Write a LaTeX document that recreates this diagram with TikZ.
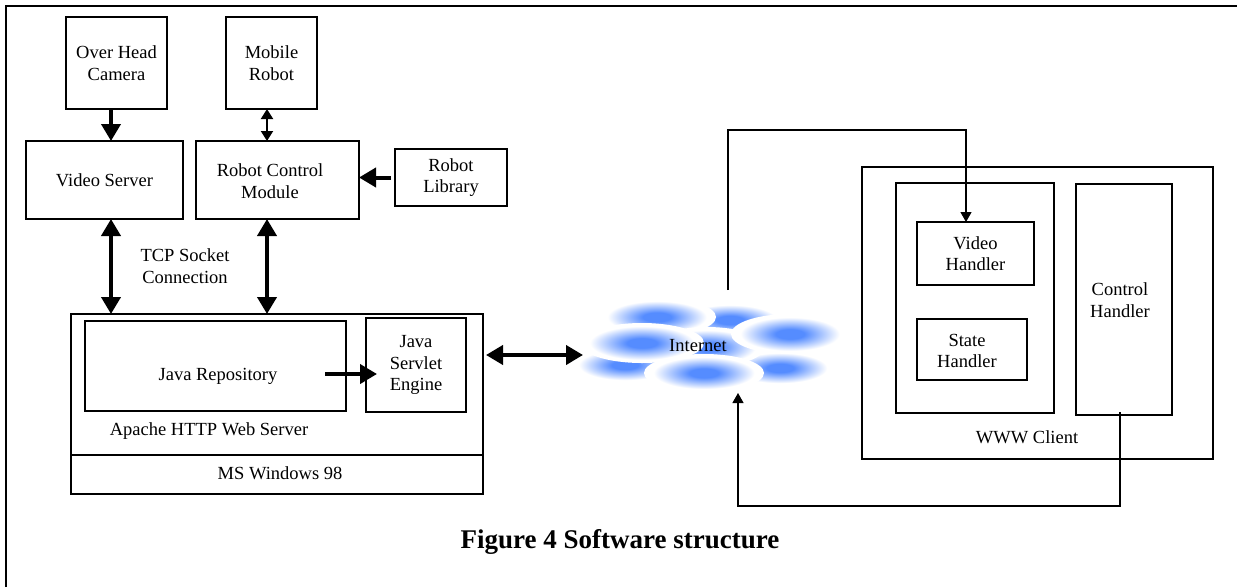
\documentclass[tikz,border=0pt]{standalone}
\usepackage{fontspec}
\setmainfont{Liberation Serif}
\usetikzlibrary{arrows.meta}
\definecolor{blobblue}{RGB}{85,140,255}
\pgfdeclareradialshading{blob}{\pgfpoint{0bp}{0bp}}{color(0bp)=(blobblue); color(6bp)=(blobblue); color(21bp)=(white); color(50bp)=(white)}
\begin{document}
\begin{tikzpicture}[x=1pt,y=-1pt,
 box/.style={draw,line width=1.5pt,inner sep=0pt,outer sep=0pt,align=center,font=\fontsize{18.5}{21.5}\selectfont},
 lbl/.style={align=center,inner sep=0pt,font=\fontsize{18.5}{21.5}\selectfont},
 bigarr/.style={line width=4pt,-{Triangle[length=17pt,width=19pt]}},
 bigboth/.style={line width=4pt,{Triangle[length=17pt,width=19pt]}-{Triangle[length=17pt,width=19pt]}},
 smallboth/.style={line width=2pt,{Triangle[length=10pt,width=12pt]}-{Triangle[length=10pt,width=12pt]}},
 thinarr/.style={line width=1.2pt,-{Triangle[length=10pt,width=11pt]}},
 blobsh/.style={shading=blob}]
\useasboundingbox (0,0) rectangle (1237,587);
% outer frame
\draw[line width=2pt] (6,587) -- (6,6) -- (1237,6);

% left column boxes
\node[box,minimum width=101pt,minimum height=92pt] (ohc) at (116.5,63) {Over Head\\Camera};
\node[box,minimum width=91pt,minimum height=92pt] (mob) at (271.5,63) {Mobile\\Robot};
\node[box,minimum width=157pt,minimum height=78pt] (vs) at (104.5,180) {Video Server};
\node[box,minimum width=163pt,minimum height=78pt] (rcm) at (277.5,180) {};
\node[lbl] (rcmt) at (270,181) {Robot Control\\Module};
\node[box,minimum width=112pt,minimum height=57pt] (rl) at (451,177.5) {Robot\\Library};
\node[lbl] (tcp) at (185,266) {TCP Socket\\Connection};

% Apache box
\node[box,minimum width=412pt,minimum height=180pt] (apache) at (277,404) {};
\draw[line width=1.5pt] (apache.west |- 0,455) -- (apache.east |- 0,455);
\node[box,minimum width=261pt,minimum height=90pt] (jr) at (215.5,366) {};
\node[lbl] (jrt) at (218,376) {Java Repository};
\node[box,minimum width=100pt,minimum height=94pt] (jse) at (416,365) {Java\\Servlet\\Engine};
\node[lbl] (apt) at (209,431) {Apache HTTP Web Server};
\node[lbl] (ms) at (280,473) {MS Windows 98};

% Internet cloud
\shade[blobsh] (730,320) ellipse [x radius=56pt, y radius=18pt];
\shade[blobsh] (625,365) ellipse [x radius=55pt, y radius=18pt];
\shade[blobsh] (780,368) ellipse [x radius=56pt, y radius=18pt];
\shade[blobsh] (657,317) ellipse [x radius=59pt, y radius=19pt];
\shade[blobsh] (707,347) ellipse [x radius=58pt, y radius=20pt];
\shade[blobsh] (790,334) ellipse [x radius=59pt, y radius=20pt];
\shade[blobsh] (642,343) ellipse [x radius=62pt, y radius=20pt];
\shade[blobsh] (704,373) ellipse [x radius=60pt, y radius=19pt];
\node[lbl] (inet) at (698,346) {Internet};
\coordinate (inetW) at (583,355);
\coordinate (inetN) at (728,290);
\coordinate (inetS) at (738,393);

% WWW client
\node[box,minimum width=351pt,minimum height=292pt] (www) at (1037.5,313) {};
\node[box,minimum width=158pt,minimum height=230pt] (inner) at (975,298) {};
\node[box,minimum width=117pt,minimum height=63pt] (vh) at (975.5,253.5) {Video\\Handler};
\node[box,minimum width=110pt,minimum height=61pt] (sh) at (972,349.5) {};
\node[lbl] (sht) at (967,351) {State\\Handler};
\node[box,minimum width=96pt,minimum height=231pt] (ch) at (1124,299.5) {};
\node[lbl] (cht) at (1120,300) {Control\\Handler};
\node[lbl] (wwwt) at (1027,437) {WWW Client};

% connectors
\draw[bigarr] ([xshift=-5.5pt]ohc.south) -- ([xshift=-5.5pt]ohc.south |- vs.north);
\draw[smallboth] ([xshift=-4.5pt]mob.south) -- ([xshift=-4.5pt]mob.south |- rcm.north);
\draw[bigarr] ([xshift=-4pt]rl.west) -- (rl.west -| rcm.east);
\draw[bigboth] ([xshift=6.5pt]vs.south) -- ([xshift=6.5pt]vs.south |- apache.north);
\draw[bigboth] ([xshift=-10.5pt]rcm.south) -- ([xshift=-10.5pt]rcm.south |- apache.north);
\coordinate (jrout) at ([xshift=-21pt,yshift=-8pt]jr.east);
\draw[bigarr] (jrout) -- ([xshift=11pt]jse.west |- jrout);
\draw[bigboth] ([xshift=3pt]apache.east |- inetW) -- (inetW);
\draw[thinarr] (inetN) -- ++(0,-160) -| ([xshift=-9.5pt]vh.north);
\draw[thinarr] ([xshift=-4pt,yshift=3pt]ch.south) -- ++(0,94) -| (inetS);

% caption
\node[font=\bfseries\fontsize{27}{32}\selectfont] (cap) at (620,542) {Figure 4 Software structure};
\end{tikzpicture}
\end{document}
